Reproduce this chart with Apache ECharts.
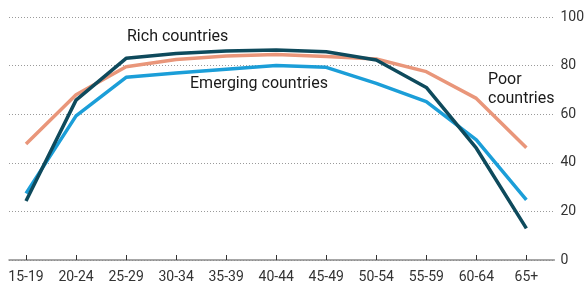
<!DOCTYPE html>
<html>
<head>
<meta charset="utf-8">
<script src="https://cdn.jsdelivr.net/npm/echarts@6/dist/echarts.min.js"></script>
<style>
  html, body { margin: 0; padding: 0; background: #fff; }
  #chart { width: 587px; height: 291px; }
</style>
</head>
<body>
<div id="chart"></div>
<script>
// 年龄组
var categories = ['15-19', '20-24', '25-29', '30-34', '35-39', '40-44', '45-49', '50-54', '55-59', '60-64', '65+'];
var rich = [24.3, 65.8, 83, 85, 86, 86.4, 85.7, 82.3, 71, 46, 13];
var poor = [47.7, 68, 79.5, 82.5, 84, 84.6, 83.7, 82.7, 77.5, 66.5, 46.2];
var emerging = [27.4, 59.3, 75.2, 77, 78.5, 80, 79.3, 72.7, 65.2, 49.4, 24.7];
var yTicks = [0, 20, 40, 60, 80, 100];

var font = 'Roboto, "Noto Sans", sans-serif';

function pairs(arr) {
  return arr.map(function (v, i) { return [i, v]; });
}

var idx = categories.map(function (c, i) { return i; });

var chart = echarts.init(document.getElementById('chart'));
chart.setOption({
  animation: false,
  backgroundColor: '#fff',
  grid: { left: 9, right: 31, top: 17, bottom: 31 },
  xAxis: {
    type: 'value',
    min: -0.34,
    max: 10.56,
    splitLine: { show: false },
    axisLine: { show: true, lineStyle: { color: '#8a8a8a', width: 1.5 } },
    axisTick: {
      show: true, inside: true, length: 5, customValues: idx,
      lineStyle: { color: '#333', width: 1 }
    },
    axisLabel: {
      customValues: idx,
      color: '#333', fontSize: 14, fontFamily: font, margin: 10,
      formatter: function (v) { return categories[Math.round(v)]; }
    }
  },
  yAxis: {
    type: 'value',
    position: 'right',
    min: 0, max: 100, interval: 20,
    axisLine: { show: false },
    axisTick: { show: false },
    axisLabel: {
      color: '#333', fontSize: 14, fontFamily: font, margin: 6,
      formatter: function (v) { return yTicks.indexOf(v) >= 0 ? String(v) : ''; }
    },
    splitLine: { show: true, lineStyle: { color: '#9a9a9a', type: [1, 2], width: 1 } }
  },
  series: [
    { name: 'Poor countries', type: 'line', data: pairs(poor), symbol: 'none',
      lineStyle: { color: '#e9967a', width: 3.5 }, z: 2 },
    { name: 'Emerging countries', type: 'line', data: pairs(emerging), symbol: 'none',
      lineStyle: { color: '#1b9ed8', width: 3.5 }, z: 3 },
    { name: 'Rich countries', type: 'line', data: pairs(rich), symbol: 'none',
      lineStyle: { color: '#0e4a5c', width: 3.5 }, z: 4 }
  ],
  graphic: [
    { type: 'text', left: 127, top: 29, style: { text: 'Rich countries', fill: '#1a1a1a', font: '16px ' + font } },
    { type: 'text', left: 190, top: 76, style: { text: 'Emerging countries', fill: '#1a1a1a', font: '16px ' + font } },
    { type: 'text', left: 488, top: 70, style: { text: 'Poor\ncountries', fill: '#1a1a1a', font: '16px ' + font, lineHeight: 19 } }
  ]
});
</script>
</body>
</html>
